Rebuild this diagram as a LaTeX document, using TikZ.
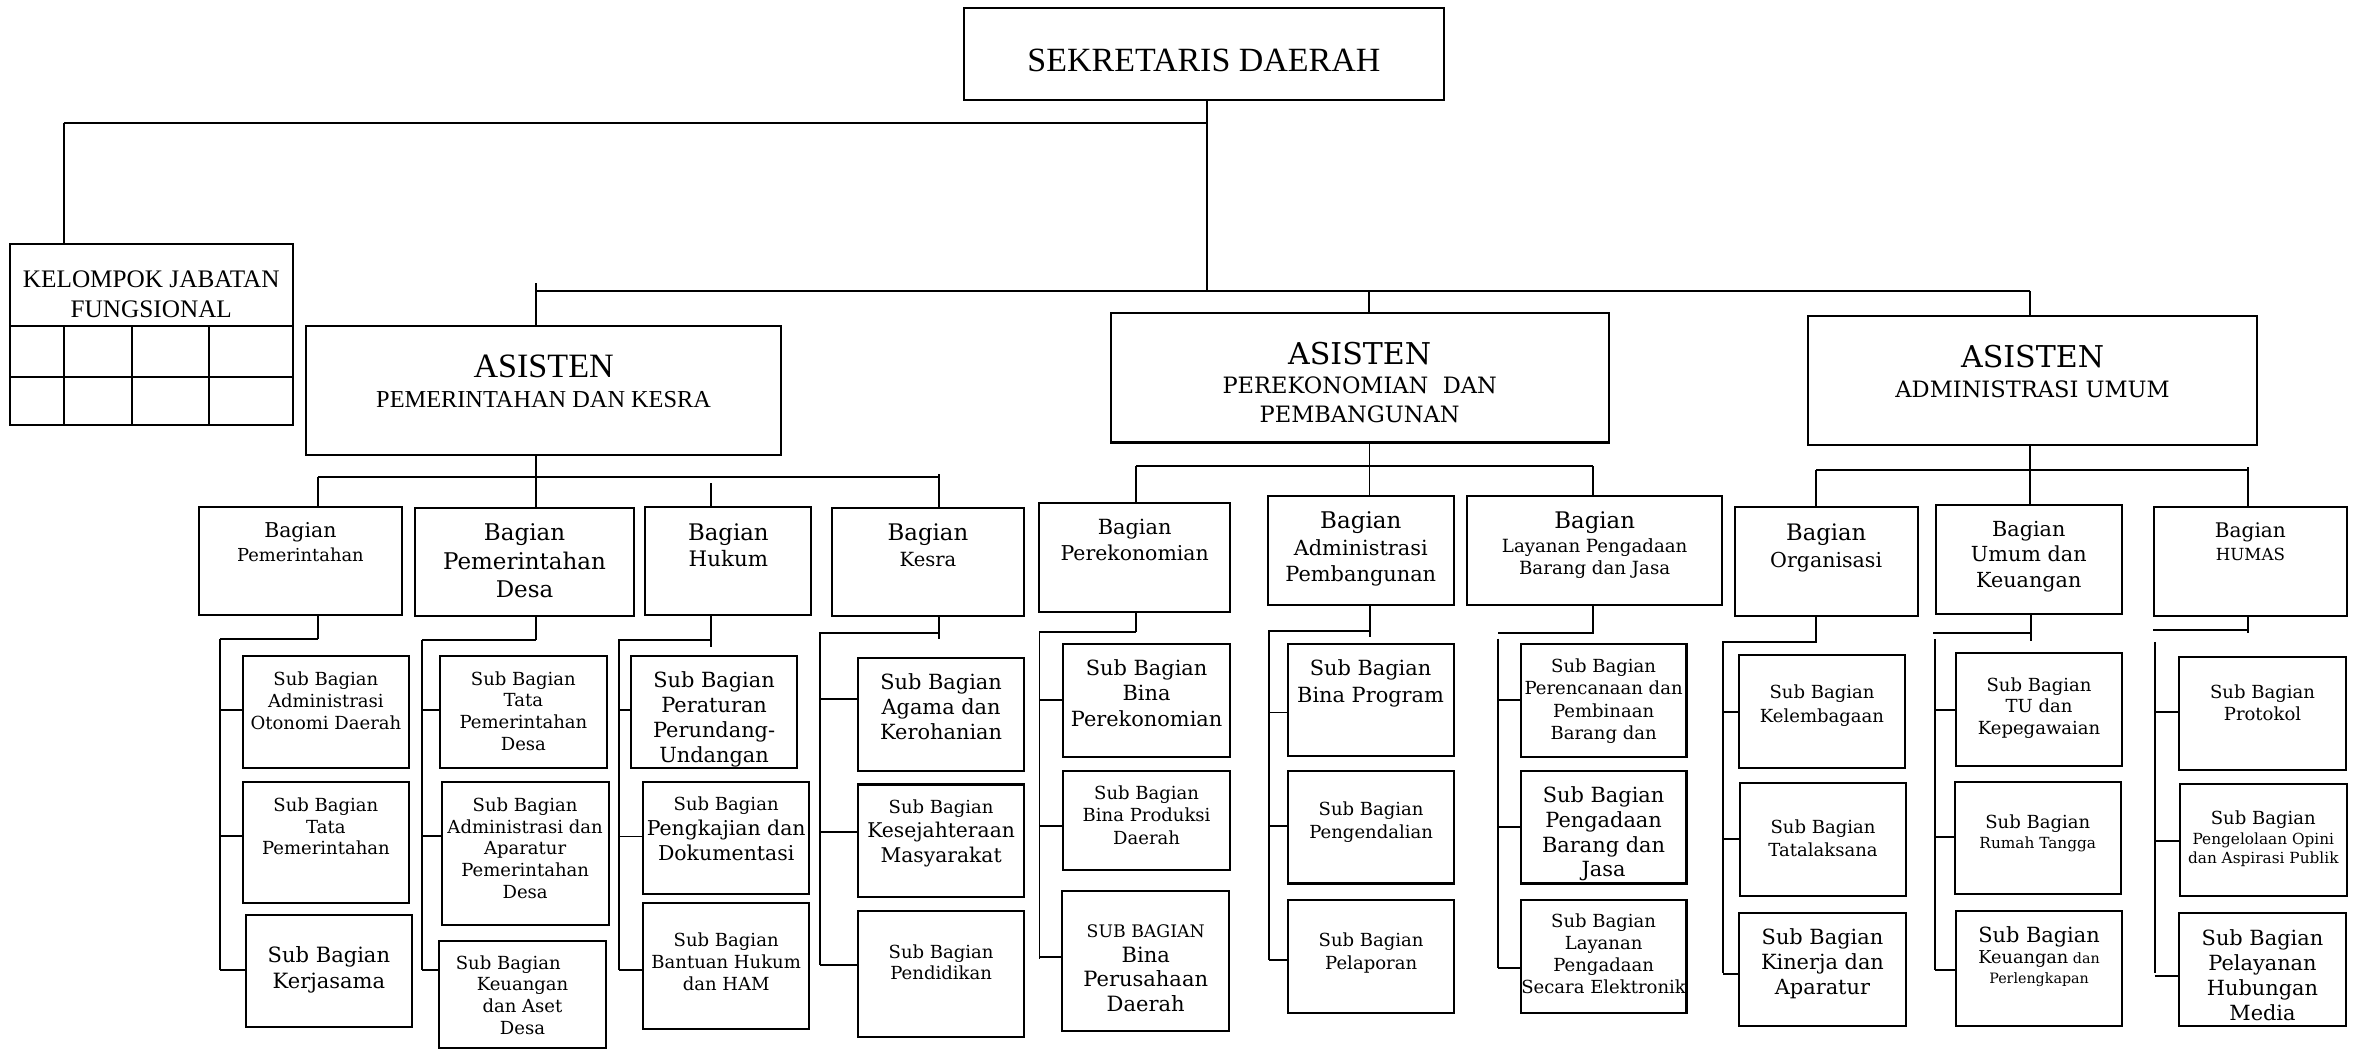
\documentclass[tikz,border=0pt]{standalone}
\usepackage{fontspec}
\setmainfont{DejaVu Serif}
\newfontfamily\tms{Liberation Serif}
\newcommand\fz[2]{\fontsize{#1}{#2}\selectfont}

\tikzset{
  bx/.style={draw, line width=1.35pt, rectangle, inner sep=0pt, outer sep=0pt},
  txt/.style={align=center, inner sep=0pt, outer sep=0pt, anchor=north},
  ln/.style={line width=1.25pt},
  grid/.style={line width=1.35pt},
}

% box from (x1,y1) to (x2,y2), text whose first baseline sits at y = #6
\newcommand\orgbox[8]{%
  \node[bx, minimum width={(#4-#2)*1pt}, minimum height={(#5-#3)*1pt}] (#1) at ({(#2+#4)/2},{(#3+#5)/2}) {};
  \node[txt, font=#7] (#1-text) at ({(#2+#4)/2},{#6-17}) {\rule{0pt}{17pt}#8};}

% parent -> bus: junction x, end of drop, y of run, start of run, bus x, bus top, bus bottom
\newcommand\busline[8]{%
  \coordinate (#1-j) at (#2,#3);
  \coordinate (#1-h) at (#2,#4);
  \coordinate (#1-k) at (#5,#4);
  \coordinate (#1-b0) at (#6,#7);
  \coordinate (#1-b1) at (#6,#8);
  \draw[ln] (#1-j |- #1.south) -- (#1-j);
  \draw[ln] (#1-k) -- (#1-h);
  \draw[ln] (#1-b0) -- (#1-b1);}

% branch from the bus at x = #2, height #3, to the west side of a sub box
\newcommand\tickline[3]{%
  \coordinate (#1-t) at (#2,#3);
  \draw[ln] (#1-t) -- (#1-t -| #1.west);}

\begin{document}
\begin{tikzpicture}[x=1pt,y=-1pt]
\useasboundingbox (0,0) rectangle (1568,699);

% ---------- top level ----------
\orgbox{sekda}{641.4}{5.5}{961.1}{66.5}{47.7}{\tms\fz{22.6}{27}}{SEKRETARIS DAERAH}
\orgbox{kjf}{6.5}{162.5}{194.9}{282.9}{191.1}{\tms\fz{16.8}{20}}{KELOMPOK JABATAN\\FUNGSIONAL}

% grid of the functional group
\coordinate (kjf-r1) at (6.5,216.9);
\coordinate (kjf-r2) at (6.5,250.6);
\draw[grid] (kjf-r1) -- (kjf-r1 -| kjf.east);
\draw[grid] (kjf-r2) -- (kjf-r2 -| kjf.east);
\foreach \cx in {42.4,87.6,139.2}{
  \coordinate (kjf-c) at (\cx,216.9);
  \draw[grid] (kjf-c) -- (kjf-c |- kjf.south);
}

% ---------- assistants ----------
\orgbox{apm}{203.7}{217}{519.9}{302.7}{251.2}{\tms\fz{16.2}{19.8}}{{\fz{22.7}{27}ASISTEN}\\PEMERINTAHAN DAN KESRA}
\orgbox{ape}{739.1}{208.4}{1070.7}{294.5}{242.7}{\fz{15}{19.3}}{{\fz{20}{24}ASISTEN}\\PEREKONOMIAN~~DAN\\PEMBANGUNAN}
\orgbox{aad}{1203.3}{210}{1502.2}{296.2}{244.7}{\fz{15}{19.8}}{{\fz{20}{24}ASISTEN}\\ADMINISTRASI UMUM}

% ---------- bagian ----------
\orgbox{bpm}{132.4}{337.3}{267.4}{409.2}{358}{\fz{11.9}{15.6}}{{\fz{13.6}{16}Bagian}\\Pemerintahan}
\orgbox{bpd}{276.1}{338}{422.1}{410}{360}{\fz{15.3}{18.8}}{Bagian\\Pemerintahan\\Desa}
\orgbox{bhk}{429.5}{337.4}{540}{409.4}{360}{\fz{14.2}{16.7}}{{\fz{15.2}{18}Bagian}\\Hukum}
\orgbox{bks}{553.6}{338.2}{681.6}{410.1}{360}{\fz{13}{17}}{{\fz{15.2}{18}Bagian}\\Kesra}

\orgbox{bpe}{691.8}{334.5}{818.5}{407}{355.5}{\fz{13.6}{17.5}}{{\fz{13.9}{17}Bagian}\\Perekonomian}
\orgbox{bap}{843.9}{329.9}{967.4}{402.7}{352}{\fz{13.9}{17.5}}{{\fz{15.3}{18}Bagian}\\Administrasi\\Pembangunan}
\orgbox{blp}{976.6}{329.9}{1146}{402.7}{352}{\fz{12.1}{14.2}}{{\fz{15.2}{18}Bagian}\\[1.8pt]Layanan Pengadaan\\Barang dan Jasa}

\orgbox{bor}{1154.5}{337.5}{1276.2}{410}{359.6}{\fz{13.7}{17.8}}{{\fz{15.1}{18}Bagian}\\Organisasi}
\orgbox{buk}{1288.2}{335.8}{1412.2}{408.4}{357}{\fz{13.8}{16.9}}{Bagian\\Umum dan\\Keuangan}
\orgbox{bhm}{1433.6}{337.5}{1561.8}{410}{358}{\fz{11.1}{15}}{{\fz{13.4}{16}Bagian}\\HUMAS}

% ---------- sub bagian: pemerintahan ----------
\orgbox{spm1}{161.4}{436.3}{272.4}{511}{456}{\fz{12}{14.6}}{Sub Bagian\\Administrasi\\Otonomi Daerah}
\orgbox{spm2}{161.4}{520.5}{272.4}{601}{539.8}{\fz{12}{14.6}}{Sub Bagian\\Tata\\Pemerintahan}
\orgbox{spm3}{163.5}{609.2}{274.3}{683.2}{640.5}{\fz{14}{17.5}}{Sub Bagian\\Kerjasama}

\orgbox{spd1}{292.7}{436.3}{404}{511}{456}{\fz{12}{14.5}}{Sub Bagian\\Tata\\Pemerintahan\\Desa}
\orgbox{spd2}{294}{520.5}{405}{615.5}{539.8}{\fz{12}{14.6}}{Sub Bagian\\Administrasi dan\\Aparatur\\Pemerintahan\\Desa}
\orgbox{spd3}{292}{626}{403.5}{697.5}{645}{\fz{12}{14.5}}{Sub Bagian\hspace*{19pt}\\Keuangan\\dan Aset\\Desa}

\orgbox{shk1}{419.9}{436.4}{530.6}{511.1}{457.5}{\fz{13.9}{16.7}}{Sub Bagian\\Peraturan\\Perundang-\\Undangan}
\orgbox{shk2}{428.1}{520.6}{538.5}{595}{539.6}{\fz{13.6}{16.4}}{{\fz{12}{14}Sub Bagian}\\Pengkajian dan\\Dokumentasi}
\orgbox{shk3}{428.1}{601.1}{538.5}{685}{630.2}{\fz{12}{14.5}}{Sub Bagian\\Bantuan Hukum\\dan HAM}

\orgbox{sks1}{571.1}{438.2}{681.6}{512.9}{458.8}{\fz{13.9}{16.6}}{Sub Bagian\\Agama dan\\Kerohanian}
\orgbox{sks2}{571.1}{522.1}{681.6}{596.8}{541.2}{\fz{13.5}{16.4}}{{\fz{12}{14}Sub Bagian}\\Kesejahteraan\\Masyarakat}
\orgbox{sks3}{571.1}{606.1}{681.6}{690}{637.7}{\fz{12}{14.5}}{Sub Bagian\\Pendidikan}

% ---------- sub bagian: perekonomian ----------
\orgbox{spe1}{707.7}{428.9}{818.5}{503.7}{449.5}{\fz{13.9}{17}}{Sub Bagian\\Bina\\Perekonomian}
\orgbox{spe2}{707.7}{513.2}{818.5}{579.1}{532.3}{\fz{12}{14.75}}{Sub Bagian\\Bina Produksi\\Daerah}
\orgbox{spe3}{707.1}{592.9}{817.9}{686.3}{624}{\fz{14}{16.4}}{{\fz{11.5}{14}SUB BAGIAN}\\Bina\\Perusahaan\\Daerah}

\orgbox{sap1}{856.9}{428.9}{967.4}{503.4}{449.5}{\fz{13.9}{17.7}}{Sub Bagian\\Bina Program}
\orgbox{sap2}{857.2}{513.2}{967.9}{588}{542.8}{\fz{12}{15.4}}{Sub Bagian\\Pengendalian}
\orgbox{sap3}{857.2}{598.8}{967.9}{673.9}{629.6}{\fz{12}{15.4}}{Sub Bagian\\Pelaporan}

\orgbox{slp1}{1012.1}{428.9}{1122.4}{503.7}{447.7}{\fz{12}{14.75}}{Sub Bagian\\Perencanaan dan\\Pembinaan\\Barang dan}
\orgbox{slp2}{1012.1}{513.2}{1122.4}{588}{534.4}{\fz{13.9}{16.4}}{Sub Bagian\\Pengadaan\\Barang dan\\Jasa}
\orgbox{slp3}{1012.1}{598.8}{1122.4}{673.9}{617.5}{\fz{12}{14.6}}{Sub Bagian\\Layanan\\Pengadaan\\Secara Elektronik}

% ---------- sub bagian: administrasi umum ----------
\orgbox{sor1}{1157.3}{436.1}{1267.9}{511.4}{465.2}{\fz{12}{15.5}}{Sub Bagian\\Kelembagaan}
\orgbox{sor2}{1157.8}{521.3}{1268.8}{596.5}{555}{\fz{12}{15}}{Sub Bagian\\Tatalaksana}
\orgbox{sor3}{1157.3}{607.8}{1268.5}{683}{628.4}{\fz{13.9}{16.8}}{Sub Bagian\\Kinerja dan\\Aparatur}

\orgbox{suk1}{1301.9}{434.5}{1412.2}{509.7}{460}{\fz{12}{14.5}}{Sub Bagian\\TU dan\\Kepegawaian}
\orgbox{suk2}{1301}{520.3}{1411.4}{594.9}{551.7}{\fz{12}{12.8}}{Sub Bagian\\{\fz{10.2}{12}Rumah Tangga}}
\orgbox{suk3}{1301.9}{606.4}{1412.2}{683}{627.4}{\fz{9.5}{13.6}}{{\fz{13.9}{16}Sub Bagian}\\{\fz{11.8}{14}Keuangan} dan\\Perlengkapan}

\orgbox{shm1}{1450.3}{437.1}{1561.2}{512.4}{464.9}{\fz{12}{14.5}}{Sub Bagian\\Protokol}
\orgbox{shm2}{1450.8}{522}{1561.8}{596.5}{549}{\fz{10.2}{13}}{{\fz{12}{14}Sub Bagian}\\Pengelolaan Opini\\dan Aspirasi Publik}
\orgbox{shm3}{1450.3}{607.8}{1561.2}{683}{629.1}{\fz{13.9}{16.6}}{Sub Bagian\\Pelayanan\\Hubungan\\Media}

% ---------- connectors: top ----------
\coordinate (sk-b) at (803.2,193.6);
\coordinate (top-l) at (42.4,82);
\coordinate (top-r) at (803.2,82);
\draw[ln] (sk-b |- sekda.south) -- (sk-b);
\draw[ln] (top-l) -- (top-r);
\draw[ln] (top-l) -- (top-l |- kjf.north);

\coordinate (as-l) at (356.5,193.6);
\coordinate (as-l0) at (356.5,188.5);
\coordinate (as-m) at (910.9,193.6);
\coordinate (as-r) at (1351,193.6);
\draw[ln] (as-l) -- (as-r);
\draw[ln] (as-l0) -- (as-l0 |- apm.north);
\draw[ln] (as-m) -- (as-m |- ape.north);
\draw[ln] (as-r) -- (as-r |- aad.north);

% ---------- connectors: assistant to bagian ----------
\coordinate (pm-j) at (356.5,317.4);
\coordinate (pm-l) at (211.5,317.4);
\coordinate (pm-r) at (625,317.4);
\coordinate (pm-3) at (473.4,321.6);
\coordinate (pm-4) at (625,315.6);
\draw[ln] (pm-j |- apm.south) -- (pm-j |- bpd.north);
\draw[ln] (pm-l) -- (pm-r);
\draw[ln] (pm-l) -- (pm-l |- bpm.north);
\draw[ln] (pm-3) -- (pm-3 |- bhk.north);
\draw[ln] (pm-4) -- (pm-4 |- bks.north);

\coordinate (pe-j) at (911.4,310.2);
\coordinate (pe-l) at (755.9,310.2);
\coordinate (pe-r) at (1060.3,310.2);
\draw[ln] (pe-j |- ape.south) -- (pe-j |- bap.north);
\draw[ln] (pe-l) -- (pe-r);
\draw[ln] (pe-l) -- (pe-l |- bpe.north);
\draw[ln] (pe-r) -- (pe-r |- blp.north);

\coordinate (ad-j) at (1350.9,312.7);
\coordinate (ad-l) at (1208.8,312.7);
\coordinate (ad-r) at (1496.3,311);
\draw[ln] (ad-j |- aad.south) -- (ad-j |- buk.north);
\draw[ln] (ad-l) -- (ad-l -| ad-r);
\draw[ln] (ad-l) -- (ad-l |- bor.north);
\draw[ln] (ad-r) -- (ad-r |- bhm.north);

% ---------- connectors: bagian to sub bagian ----------
\busline{bpm}{211.5}{425}{425}{146.4}{146.4}{425}{645.6}
\tickline{spm1}{146.4}{472.6}
\tickline{spm2}{146.4}{556.6}
\tickline{spm3}{146.4}{645.6}

\busline{bpd}{357}{425.8}{425.8}{280.8}{280.8}{425.8}{645.6}
\tickline{spd1}{280.8}{472.6}
\tickline{spd2}{280.8}{556.6}
\tickline{spd3}{280.8}{645.6}

\busline{bhk}{473.4}{430.7}{425.9}{411.5}{412.2}{425.9}{645.7}
\tickline{shk1}{412.2}{472.3}
\tickline{shk2}{412.2}{556.7}
\tickline{shk3}{412.2}{645.7}

\busline{bks}{625}{425.1}{421.4}{545}{545.6}{421.4}{642}
\tickline{sks1}{545.6}{465.2}
\tickline{sks2}{545.6}{553.7}
\tickline{sks3}{545.6}{642}

\busline{bpe}{755.9}{420.7}{420.7}{691.8}{691.8}{420.7}{638.1}
\tickline{spe1}{691.8}{466}
\tickline{spe2}{691.8}{549.6}
\tickline{spe3}{691.8}{637.1}

\busline{bap}{912}{424}{420}{843.9}{844.5}{420}{638.8}
\tickline{sap1}{844.5}{474.2}
\tickline{sap2}{844.5}{549.6}
\tickline{sap3}{844.5}{638.8}

\busline{blp}{1060.3}{421.7}{421}{997.1}{997.1}{425}{644.3}
\tickline{slp1}{997.1}{466}
\tickline{slp2}{997.1}{550.2}
\tickline{slp3}{997.1}{644.3}

\busline{bor}{1208.8}{428.2}{427.2}{1146.2}{1146.7}{427.2}{647.4}
\tickline{sor1}{1146.7}{474.1}
\tickline{sor2}{1146.7}{558.6}
\tickline{sor3}{1146.7}{648.4}

\busline{buk}{1351.5}{426.6}{421.3}{1286.6}{1288}{425.6}{645.7}
\tickline{suk1}{1288}{472.4}
\tickline{suk2}{1288}{557}
\tickline{suk3}{1288}{645.7}

\busline{bhm}{1496.3}{421.3}{419.3}{1433}{1434.2}{427.2}{647.4}
\tickline{shm1}{1434.2}{474.1}
\tickline{shm2}{1434.2}{559.9}
\tickline{shm3}{1434.2}{649.4}

\end{tikzpicture}
\end{document}
